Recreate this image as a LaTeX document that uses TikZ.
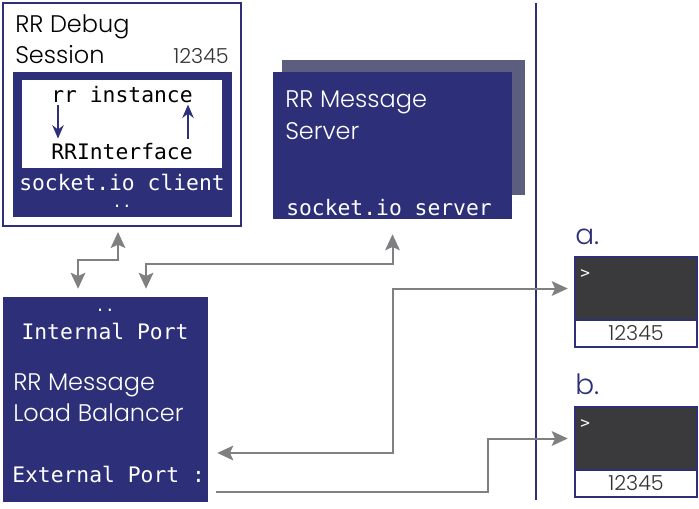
\documentclass[tikz,border=0pt]{standalone}
\usepackage{fontspec}
\setmainfont{Poppins Light}
\setmonofont{DejaVu Sans Mono}
\usetikzlibrary{arrows.meta,fit}
\definecolor{navy}{RGB}{45,47,120}
\definecolor{shade}{RGB}{92,94,128}
\definecolor{term}{RGB}{58,58,60}
\definecolor{wire}{RGB}{128,128,130}
\tikzset{
  panel/.style={fill=navy, inner sep=0},
  title/.style={inner sep=0, anchor=base west, font=\fontsize{18}{22}\selectfont},
  code/.style={inner sep=0, anchor=base, font=\fontsize{16}{18}\ttfamily},
  dots/.style={inner sep=0, anchor=base, font=\fontsize{12}{14}\ttfamily},
  digits/.style={inner sep=0, font=\fontsize{15.5}{17}\selectfont, text=black!80},
  termlabel/.style={inner sep=0, anchor=base west, text=navy, font=\fontsize{21}{24}\selectfont},
  prompt/.style={inner sep=0, anchor=base west, white, font=\fontsize{12}{14}\ttfamily},
  wire/.style={draw=wire, line width=1.5pt, >={Stealth[length=12pt,width=11pt,inset=2.5pt]}},
  navylink/.style={draw=navy, line width=1.6pt, ->, >={Stealth[length=10pt,width=8.5pt]}}
}
\begin{document}
\begin{tikzpicture}[x=0.75pt, y=-0.75pt]
\useasboundingbox (0,0) rectangle (699,508);

% debug session
\node[fit={(3,3) (241,226)}, draw=navy, line width=1.5pt, fill=white, inner sep=0] (dbg) {};
\node[title] (dbgname) at (15,32) {RR Debug};
\node[title] (dbgname2) at (15,63) {Session};
\node[digits, anchor=base east] (dbgport) at (229,63) {12345};
\node[panel, fit={(13,72) (232,217)}] (client) {};
\node[fill=white, inner sep=0, fit={(22,80) (222,168)}] (rrbox) {};
\node[code] (rr) at (122,102) {rr instance};
\node[code] (iface) at (122,159) {RRInterface};
\draw[navylink, shorten <=1.5pt, shorten >=3pt] ([xshift=-48pt]rr.south) -- ([xshift=-48pt]iface.north);
\draw[navylink, shorten <=3pt, shorten >=1.5pt] ([xshift=49.5pt]iface.north) -- ([xshift=49.5pt]rr.south);
\node[code, white] (sockc) at (122,190) {socket.io client};
\node[dots, white] (dotsc) at (122,207) {..};

% message server
\node[fill=shade, inner sep=0, fit={(282,60) (525,195)}] (srvshadow) {};
\node[panel, fit={(273,72) (512,219)}] (srv) {};
\node[title, white] (srvname) at (285,107) {RR Message};
\node[title, white] (srvname2) at (285,139) {Server};
\node[code, white, anchor=base west] (socks) at (286,215) {socket.io server};

% load balancer
\node[panel, fit={(3,297) (208,502)}] (lb) {};
\node[dots, white] (dotsl) at (105,311) {..};
\node[code, white] (inport) at (105,339) {Internal Port};
\node[title, white] (lbname) at (13,390) {RR Message};
\node[title, white] (lbname2) at (13,421) {Load Balancer};
\node[code, white, anchor=base west] (export) at (12,482) {External Port :};

% divider
\draw[navy, line width=1.5pt] (536,3) -- (536,500);

% terminals
\node[termlabel] (alabel) at (575,244) {a.};
\node[fill=term, inner sep=0, fit={(575,257) (697,320)}] (scra) {};
\node[fill=white, inner sep=0, fit={(575,320) (697,347)}] (portboxa) {};
\draw[navy, line width=1.3pt] (scra.north west) rectangle (portboxa.south east);
\draw[navy, line width=1.3pt] (portboxa.north west) -- (portboxa.north east);
\node[digits, anchor=base] (porta) at (636,340) {12345};
\node[prompt] (prompta) at (580,278) {>};

\node[termlabel] (blabel) at (575,394) {b.};
\node[fill=term, inner sep=0, fit={(575,407) (697,470)}] (scrb) {};
\node[fill=white, inner sep=0, fit={(575,470) (697,497)}] (portboxb) {};
\draw[navy, line width=1.3pt] (scrb.north west) rectangle (portboxb.south east);
\draw[navy, line width=1.3pt] (portboxb.north west) -- (portboxb.north east);
\node[digits, anchor=base] (portb) at (636,490) {12345};
\node[prompt] (promptb) at (580,428) {>};

% connectors
\draw[wire, <->, shorten <=3.75pt, shorten >=6pt] ([xshift=-3pt]dbg.south) -- ++(0,33) -| ([xshift=-20.6pt]lb.north);
\draw[wire, <->, shorten <=6pt, shorten >=11.25pt] ([xshift=30.4pt]lb.north) -- ++(0,-33) -| (srv.south);
\draw[wire, <->, shorten <=6.75pt, shorten >=5.25pt] ([yshift=-40.1pt]lb.east) -- ++(185,0) |- (scra.west);
\draw[wire, ->, shorten <=6pt, shorten >=5.25pt] ([yshift=-69.4pt]lb.east) -- ++(280,0) |- (scrb.west);
\end{tikzpicture}
\end{document}
